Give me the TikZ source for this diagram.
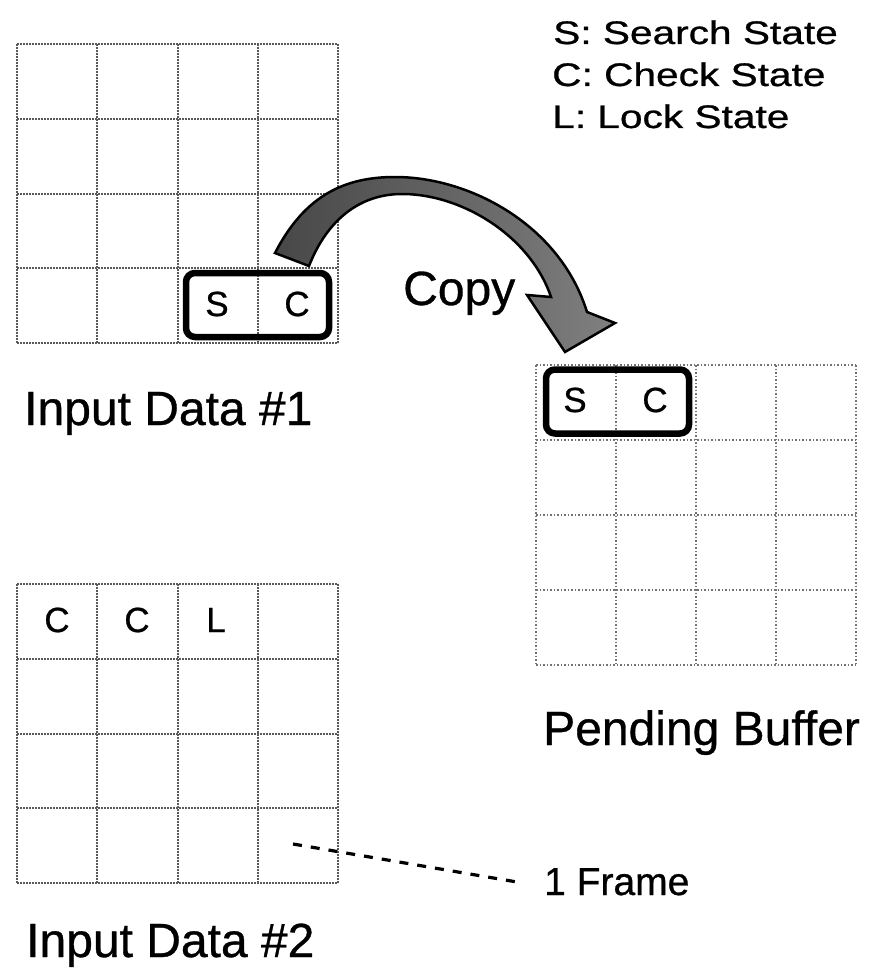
\documentclass[tikz,border=0pt]{standalone}
\usepackage{fontspec}
\setmainfont{Liberation Sans}[FakeBold=0.7]
\begin{document}
\begin{tikzpicture}[x=1pt,y=-1pt,
  gridline/.style={draw=black!65, line width=2pt, densely dotted},
  bufline/.style={draw=black!55, line width=1.5pt, dotted},
  selbox/.style={draw=black, line width=6.5pt, rounded corners=9pt, minimum width=143pt, minimum height=64pt, inner sep=0pt},
  cellletter/.style={font=\fontsize{35}{35}\selectfont, inner sep=0pt},
  biglabel/.style={font=\fontsize{48}{48}\selectfont, anchor=base west, inner sep=0pt},
  legendtext/.style={font=\fontsize{32}{32}\selectfont, anchor=base west, inner sep=0pt},
  framelabel/.style={font=\fontsize{39}{39}\selectfont, anchor=base west, inner sep=0pt},
  frameline/.style={draw=black, line width=3.2pt, dash pattern=on 9pt off 9pt},
  copyarrow/.style={draw=black, line width=2.5pt, left color=black!72, right color=black!50, line join=miter}
]
\useasboundingbox (0,0) rectangle (874,971);

% Grid: Input Data #1
\foreach \i in {0,...,4} {
  \draw[gridline] (17+80.25*\i,44) -- (17+80.25*\i,343);
  \draw[gridline] (17,44+74.75*\i) -- (338,44+74.75*\i);
}
% Grid: Pending Buffer
\foreach \i in {0,...,4} {
  \draw[bufline] (536+80*\i,365) -- (536+80*\i,665);
  \draw[bufline] (536,365+75*\i) -- (856,365+75*\i);
}
% Grid: Input Data #2
\foreach \i in {0,...,4} {
  \draw[gridline] (17+80.25*\i,584) -- (17+80.25*\i,883);
  \draw[gridline] (17,584+74.75*\i) -- (338,584+74.75*\i);
}

% Selection boxes
\node[selbox] (sel1) at (257.5,305) {};
\node[selbox] (sel2) at (617.5,401.5) {};

% Cell letters
\node[cellletter] (s1) at (217,304) {S};
\node[cellletter] (c1) at (297,304) {C};
\node[cellletter] (s2) at (575,400) {S};
\node[cellletter] (c2) at (655,400) {C};
\node[cellletter] (c3) at (57,620) {C};
\node[cellletter] (c4) at (137,620) {C};
\node[cellletter] (l3) at (216,620) {L};

% Labels
\node[biglabel] (in1) at (24,425) {Input Data \#1};
\node[biglabel] (pend) at (543,745) {Pending Buffer};
\node[biglabel] (in2) at (26,957) {Input Data \#2};
\node[biglabel] (copy) at (403,305) {Copy};

% Legend
\node[legendtext] (lgs) at (553,44) {\scalebox{1.27}[1.02]{S: Search State}};
\node[legendtext] (lgc) at (552,86) {\scalebox{1.27}[1.02]{C: Check State}};
\node[legendtext] (lgl) at (552,128) {\scalebox{1.27}[1.02]{L: Lock State}};

% Frame annotation
\coordinate (fstart) at (293,844);
\coordinate (fend) at (517,882);
\node[framelabel] (frame) at (544,895) {1 Frame};
\draw[frameline] (fstart) -- (fend);

% Curved copy arrow
\path[copyarrow] (275,253) .. controls (305,195) and (345,177) .. (395,177)
  .. controls (470,177) and (560,225) .. (587,312)
  -- (615,323) -- (565,352) -- (527,295) -- (551,297)
  .. controls (530,235) and (460,193) .. (400,194)
  .. controls (355,195) and (325,225) .. (309,266) -- cycle;
\end{tikzpicture}
\end{document}
